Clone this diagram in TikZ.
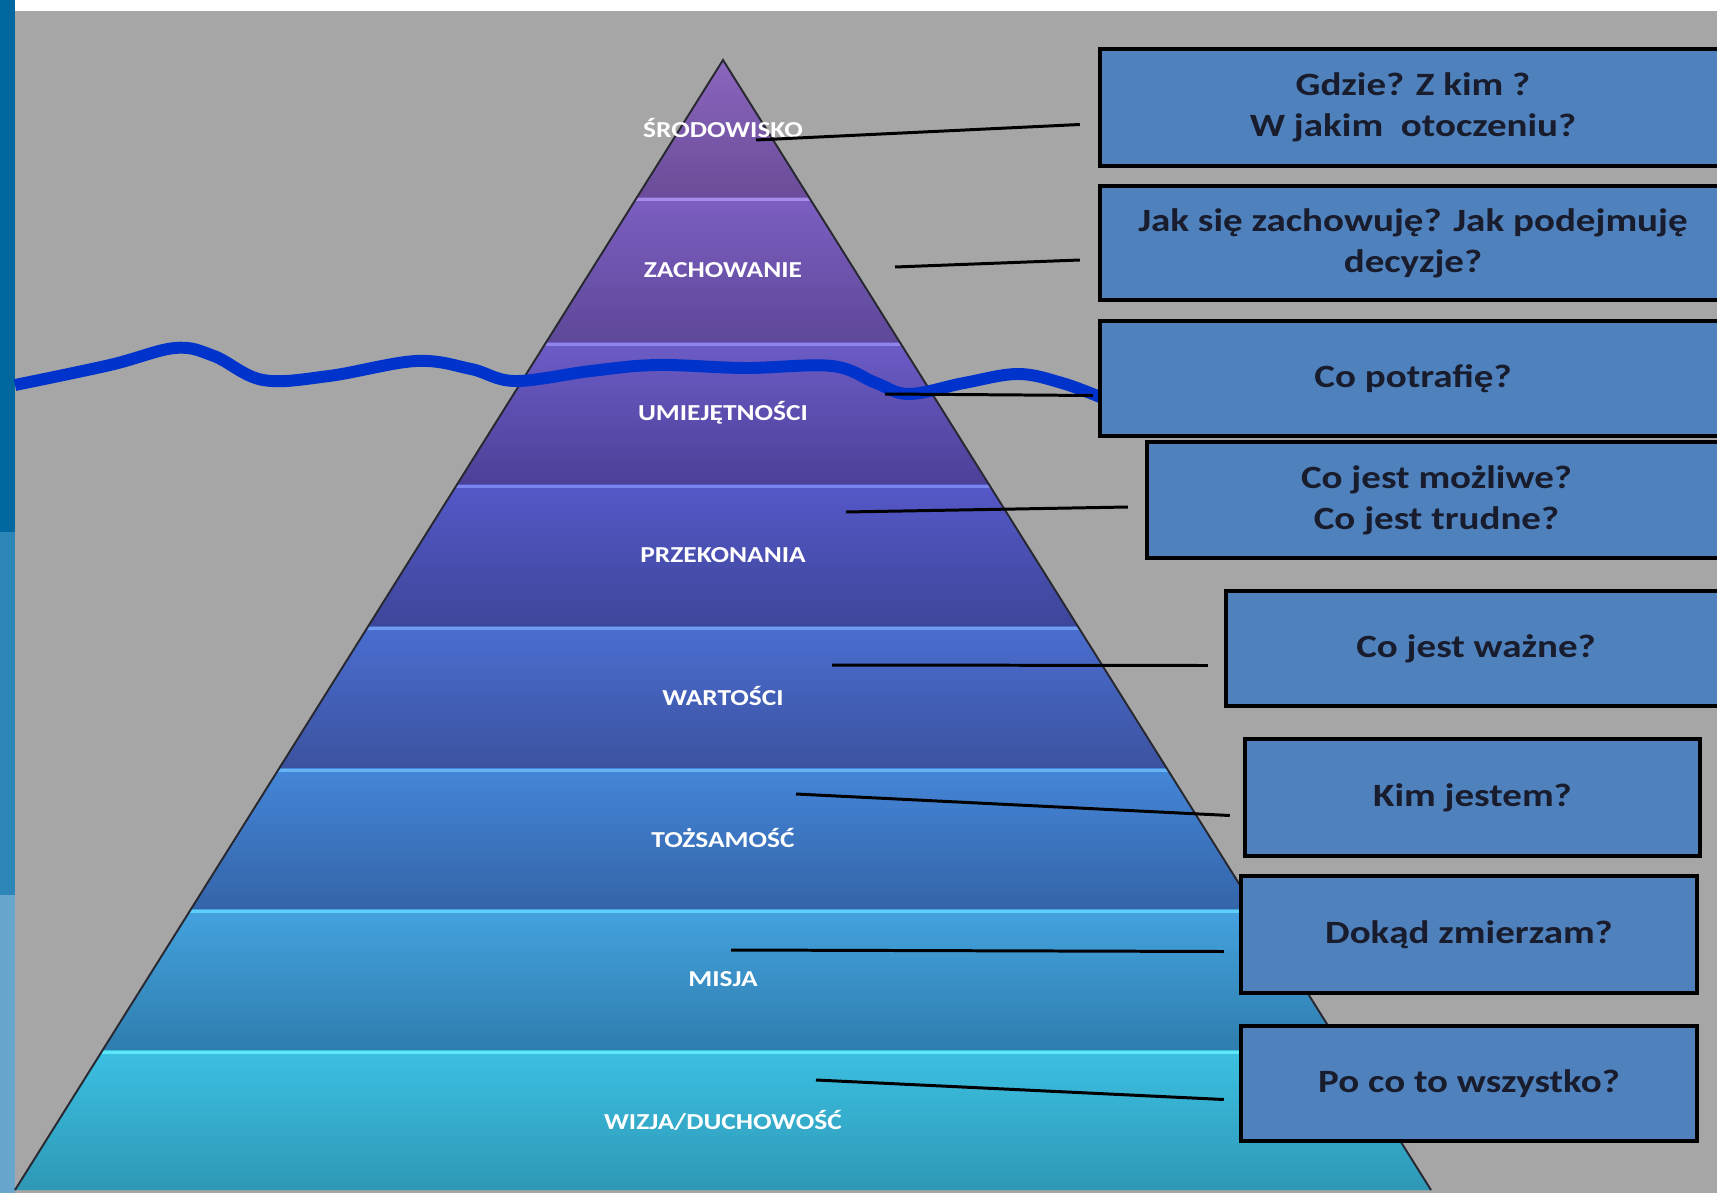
\documentclass[tikz,border=0pt]{standalone}
\usepackage{fontspec}
\setmainfont{Carlito}
\newfontfamily\widefont[FakeStretch=1.2]{Carlito}
\usepackage{tikz}
\usetikzlibrary{calc}
\definecolor{pagegray}{RGB}{166,166,166}
\definecolor{stripdark}{RGB}{0,104,158}
\definecolor{stripmid}{RGB}{46,134,184}
\definecolor{striplight}{RGB}{104,166,206}
\definecolor{boxblue}{RGB}{79,129,189}
\definecolor{qtext}{RGB}{24,28,44}
\definecolor{waveblue}{RGB}{0,51,204}
\definecolor{edgegray}{RGB}{40,40,48}
\definecolor{bandAtop}{RGB}{139,102,190}
\definecolor{bandAbot}{RGB}{106,76,152}
\definecolor{bandBhi}{RGB}{165,138,230}
\definecolor{bandBtop}{RGB}{124,95,194}
\definecolor{bandBbot}{RGB}{94,72,152}
\definecolor{bandChi}{RGB}{142,134,232}
\definecolor{bandCtop}{RGB}{108,92,198}
\definecolor{bandCbot}{RGB}{76,64,152}
\definecolor{bandDhi}{RGB}{122,134,238}
\definecolor{bandDtop}{RGB}{85,88,200}
\definecolor{bandDbot}{RGB}{62,70,154}
\definecolor{bandEhi}{RGB}{111,156,240}
\definecolor{bandEtop}{RGB}{74,110,208}
\definecolor{bandEbot}{RGB}{60,82,160}
\definecolor{bandFhi}{RGB}{100,180,244}
\definecolor{bandFtop}{RGB}{68,134,216}
\definecolor{bandFbot}{RGB}{52,100,168}
\definecolor{bandGhi}{RGB}{92,208,248}
\definecolor{bandGtop}{RGB}{68,162,222}
\definecolor{bandGbot}{RGB}{46,126,174}
\definecolor{bandHhi}{RGB}{92,232,250}
\definecolor{bandHtop}{RGB}{60,192,226}
\definecolor{bandHbot}{RGB}{46,152,182}
\tikzset{
    question/.style={
        rectangle,
        draw=black,
        line width=2.6pt,
        fill=boxblue,
        text=qtext,
        align=center,
        inner sep=0pt,
        font=\widefont\bfseries\fontsize{18.5}{23.5}\selectfont
    },
    layerlbl/.style={
        text=white,
        inner sep=0pt,
        font=\widefont\bfseries\fontsize{13}{15}\selectfont
    },
    leader/.style={draw=black, line width=1.7pt},
    water/.style={draw=waveblue, line width=6.8pt}
}

\begin{document}
\begin{tikzpicture}[
    x=0.02cm, y=-0.02cm,
    band/.style={draw=none},
    glint/.style={draw=#1, line width=1.6pt},
    edge/.style={draw=edgegray, line width=1.1pt, line join=miter}
]

\clip (0,0) rectangle (1717,1193);

% background and frame strips
\fill[pagegray] (0,0) rectangle (1717,1193);
\fill[white] (15,0) rectangle (1717,11);
\fill[stripdark] (0,0) rectangle (15,532);
\fill[stripmid] (0,532) rectangle (15,895);
\fill[striplight] (0,895) rectangle (15,1193);

% pyramid bands
\shade[band, top color=bandAtop, bottom color=bandAbot] (723,60) -- (808.8,197) -- (637.2,197) -- cycle;
\shade[band, top color=bandBtop, bottom color=bandBbot] (637.2,197) -- (808.8,197) -- (899.7,342) -- (546.3,342) -- cycle;
\shade[band, top color=bandCtop, bottom color=bandCbot] (546.3,342) -- (899.7,342) -- (988.6,484) -- (457.4,484) -- cycle;
\shade[band, top color=bandDtop, bottom color=bandDbot] (457.4,484) -- (988.6,484) -- (1077.6,626) -- (368.4,626) -- cycle;
\shade[band, top color=bandEtop, bottom color=bandEbot] (368.4,626) -- (1077.6,626) -- (1166.6,768) -- (279.4,768) -- cycle;
\shade[band, top color=bandFtop, bottom color=bandFbot] (279.4,768) -- (1166.6,768) -- (1254.9,909) -- (191.1,909) -- cycle;
\shade[band, top color=bandGtop, bottom color=bandGbot] (191.1,909) -- (1254.9,909) -- (1343.3,1050) -- (102.7,1050) -- cycle;
\shade[band, top color=bandHtop, bottom color=bandHbot] (102.7,1050) -- (1343.3,1050) -- (1431,1190) -- (15,1190) -- cycle;

\draw[glint=bandBhi] (636,199.5) -- (810,199.5);
\draw[glint=bandChi] (545,344.5) -- (901,344.5);
\draw[glint=bandDhi] (456,486.5) -- (990,486.5);
\draw[glint=bandEhi] (367,628.5) -- (1079,628.5);
\draw[glint=bandFhi] (278,770.5) -- (1168,770.5);
\draw[glint=bandGhi] (190,911.5) -- (1256,911.5);
\draw[glint=bandHhi] (101,1052.5) -- (1345,1052.5);

\draw[edge] (15,1190) -- (723,60) -- (1431,1190);

% layer names
\node[layerlbl] (srodowisko) at (723,128) {ŚRODOWISKO};
\node[layerlbl] (zachowanie) at (723,270) {ZACHOWANIE};
\node[layerlbl] (umiejetnosci) at (723,413) {UMIEJĘTNOŚCI};
\node[layerlbl] (przekonania) at (723,555) {PRZEKONANIA};
\node[layerlbl] (wartosci) at (723,696) {WARTOŚCI};
\node[layerlbl] (tozsamosc) at (723,838) {TOŻSAMOŚĆ};
\node[layerlbl] (misja) at (723,979) {MISJA};
\node[layerlbl] (wizja) at (723,1120) {WIZJA/DUCHOWOŚĆ};

% water line
\draw[water] plot[smooth, tension=0.6] coordinates {
    (15,385) (110,365) (175,348) (214,356) (263,380) (329,376) (416,361)
    (471,369) (515,381) (591,371) (657,365) (745,368) (832,366) (876,383)
    (909,394) (964,383) (1018,374) (1062,383) (1100,397)};

% questions
\node[question, minimum width=12.52cm, minimum height=2.34cm] (q1) at (1413,107.5) {Gdzie? Z kim ?\\W jakim\ \ otoczeniu?};
\node[question, minimum width=12.52cm, minimum height=2.28cm] (q2) at (1413,243) {Jak się zachowuję? Jak podejmuję\\decyzje?};
\node[question, minimum width=12.52cm, minimum height=2.30cm] (q3) at (1413,378.5) {Co potrafię?};
\node[question, minimum width=11.58cm, minimum height=2.32cm] (q4) at (1436.5,500) {Co jest możliwe?\\Co jest trudne?};
\node[question, minimum width=10cm, minimum height=2.30cm] (q5) at (1476,648.5) {Co jest ważne?};
\node[question, minimum width=9.10cm, minimum height=2.34cm] (q6) at (1472.5,797.5) {Kim jestem?};
\node[question, minimum width=9.12cm, minimum height=2.34cm] (q7) at (1469,934.5) {Dokąd zmierzam?};
\node[question, minimum width=9.12cm, minimum height=2.30cm] (q8) at (1469,1083.5) {Po co to wszystko?};

% leaders
\coordinate (p1) at (756,140);
\coordinate (p2) at (895,267);
\coordinate (p3) at (885,394);
\coordinate (p4) at (846,512);
\coordinate (p5) at (832,665);
\coordinate (p6) at (796,794);
\coordinate (p7) at (731,950);
\coordinate (p8) at (816,1080);

\draw[leader] (p1) -- ($(q1.west)+(-18,17)$);
\draw[leader] (p2) -- ($(q2.west)+(-18,17)$);
\draw[leader] (p3) -- ($(q3.west)+(-5,17)$);
\draw[leader] (p4) -- ($(q4.west)+(-17,7)$);
\draw[leader] (p5) -- ($(q5.west)+(-16,17)$);
\draw[leader] (p6) -- ($(q6.west)+(-13,18)$);
\draw[leader] (p7) -- ($(q7.west)+(-15,17)$);
\draw[leader] (p8) -- ($(q8.west)+(-15,16)$);

\end{tikzpicture}
\end{document}
